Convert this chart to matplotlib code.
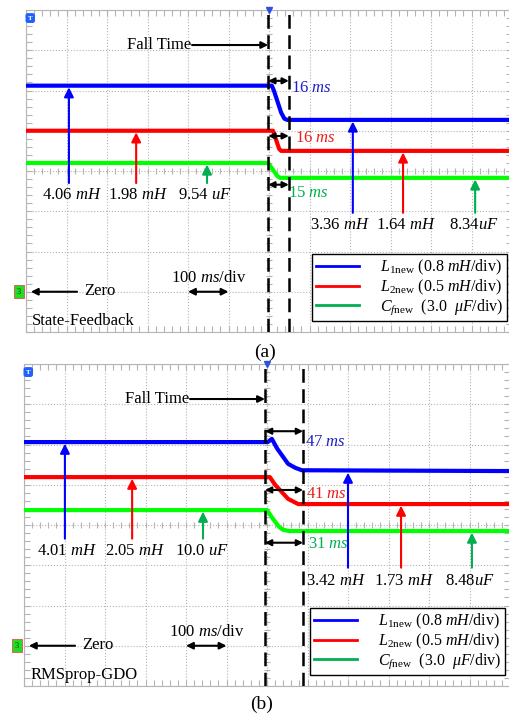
import numpy as np
import matplotlib
matplotlib.use('Agg')
import matplotlib.pyplot as plt
from matplotlib.lines import Line2D
from matplotlib.ticker import MultipleLocator

plt.rcParams['font.family'] = ['Liberation Serif', 'DejaVu Serif']
plt.rcParams['mathtext.fontset'] = 'custom'
plt.rcParams['mathtext.rm'] = 'Liberation Serif'
plt.rcParams['mathtext.it'] = 'Liberation Serif:italic'
plt.rcParams['mathtext.bf'] = 'Liberation Serif:bold'

BLUE, RED, GREEN = '#0000ff', '#ff0000', '#00ff00'
TBLUE, TRED, TGREEN = '#2020c8', '#ee1c1c', '#00b050'
GRID = '#b4b4b4'
FS = 12

# time in ms (100 ms/div, trigger at 0), level in div above the zero marker
# ---------------- panel (a) State-Feedback ----------------
a_blue_t = [-600, 7, 12, 30, 38, 45, 600]
a_blue = [5.12, 5.12, 5.0, 4.45, 4.3, 4.27, 4.27]
a_red_t = [-600, 10, 15, 25, 30, 600]
a_red = [4.0, 4.0, 3.85, 3.55, 3.5, 3.5]
a_green_t = [-600, -2, 5, 20, 27, 600]
a_green = [3.2, 3.2, 3.1, 2.88, 2.83, 2.83]
a_cursors = [-2, 49]
a_fall_y = [5.24, 3.87, 2.66]
a_fall_txt = ['16 $ms$', '16 $ms$', '15 $ms$']
a_fall_lx = [54, 64, 47]
a_fall_ly = [5.06, 3.82, 2.46]
a_before_x = [-494, -328, -153]
a_before_lbl = ['4.06 $mH$', '1.98 $mH$', '9.54 $uF$']
a_before_lx = [-486, -323, -158]
a_after_x = [207, 331, 509]
a_after_lbl = ['3.36 $mH$', '1.64 $mH$', '8.34$uF$']
a_after_lx = [175, 338, 506]

# ---------------- panel (b) RMSprop-GDO ----------------
b_blue_t = [-600, 2, 12, 25, 52, 70, 86, 600]
b_blue = [5.06, 5.06, 5.14, 4.9, 4.52, 4.42, 4.36, 4.34]
b_red_t = [-600, 7, 20, 52, 77, 600]
b_red = [4.19, 4.19, 4.0, 3.65, 3.52, 3.52]
b_green_t = [-600, 0, 15, 30, 40, 55, 600]
b_green = [3.37, 3.37, 3.15, 2.95, 2.88, 2.85, 2.85]
b_cursors = [-5, 89]
b_fall_y = [5.33, 3.87, 2.56]
b_fall_txt = ['47 $ms$', '41 $ms$', '31 $ms$']
b_fall_lx = [94, 96, 101]
b_fall_ly = [5.06, 3.77, 2.53]
b_before_x = [-499, -333, -158]
b_before_lbl = ['4.01 $mH$', '2.05 $mH$', '10.0 $uF$']
b_before_lx = [-494, -326, -160]
b_after_x = [200, 331, 506]
b_after_lbl = ['3.42 $mH$', '1.73 $mH$', '8.48$uF$']
b_after_lx = [170, 338, 501]

legend_lbl = [r'$L_{\mathrm{1new}}$ (0.8 $mH$/div)',
              r'$L_{\mathrm{2new}}$ (0.5 $mH$/div)',
              r'$C_{f\mathrm{new}}$  (3.0  $\mu F$/div)']


def graticule(ax):
    ax.set_xlim(-600, 600)
    ax.set_ylim(-1, 7)
    ax.xaxis.set_major_locator(MultipleLocator(100))
    ax.yaxis.set_major_locator(MultipleLocator(1))
    ax.xaxis.set_minor_locator(MultipleLocator(20))
    ax.yaxis.set_minor_locator(MultipleLocator(0.2))
    ax.tick_params(which='both', direction='in', length=4, width=0.8,
                   colors=GRID, top=True, right=True,
                   labelbottom=False, labelleft=False)
    ax.grid(True, which='major', ls=':', color=GRID, lw=0.8)
    for s in ax.spines.values():
        s.set_color(GRID)
    # tick marks along the centre cross
    xs = np.arange(-600, 601, 20)
    ax.plot(xs, np.full(len(xs), 3.0), ls='none', marker='|', ms=5,
            mew=0.8, color=GRID, zorder=1)
    ys = np.arange(-1, 7.01, 0.2)
    ax.plot(np.zeros(len(ys)), ys, ls='none', marker='_', ms=5,
            mew=0.8, color=GRID, zorder=1)


def arrow(ax, x0, y0, x1, y1, color='k', style='-|>', lw=1.5, ms=11):
    ax.annotate('', xy=(x1, y1), xytext=(x0, y0),
                arrowprops=dict(arrowstyle=style, color=color, lw=lw,
                                mutation_scale=ms, shrinkA=0, shrinkB=0),
                zorder=6)


def draw_panel(ax, traces, cursors, fall_y, fall_txt, fall_lx, fall_ly,
               before_x, before_lbl, before_lx, after_x, after_lbl,
               after_lx, name, before_base, before_ly, after_base, after_ly):
    graticule(ax)
    for (t, v), c in zip(traces, [BLUE, RED, GREEN]):
        ax.plot(t, v, color=c, lw=3.0, solid_joinstyle='round', zorder=3)
    for x in cursors:
        ax.axvline(x, color='k', lw=1.8, dashes=(5.5, 2.6), zorder=5)
    ax.plot(0, 7, marker='v', color='#3050e0', ms=4, clip_on=False, zorder=7)

    tcols = [TBLUE, TRED, TGREEN]
    for y, txt, lx, ly, c in zip(fall_y, fall_txt, fall_lx, fall_ly, tcols):
        arrow(ax, cursors[0], y, cursors[1], y, style='<|-|>', ms=9)
        ax.text(lx, ly, txt, color=c, fontsize=FS, va='center', ha='left')

    # Fall Time pointer
    ax.text(-192, 6.13, 'Fall Time', fontsize=FS, ha='right', va='center')
    arrow(ax, -190, 6.13, cursors[0], 6.13, style='-|>', ms=10)

    levels0 = [tr[1][0] for tr in traces]
    levels1 = [tr[1][-1] for tr in traces]
    acols = [BLUE, RED, TGREEN]
    for x, lvl, lbl, lx, c in zip(before_x, levels0, before_lbl, before_lx, acols):
        arrow(ax, x, before_base, x, lvl - 0.04, color=c, ms=14)
        ax.text(lx, before_ly, lbl, fontsize=FS, ha='center', va='center')
    for x, lvl, lbl, lx, c in zip(after_x, levels1, after_lbl, after_lx, acols):
        arrow(ax, x, after_base, x, lvl - 0.04, color=c, ms=14)
        ax.text(lx, after_ly, lbl, fontsize=FS, ha='center', va='center')

    # zero marker and time scale
    arrow(ax, -474, 0, -588, 0, style='-|>', ms=10)
    ax.text(-456, 0.02, 'Zero', fontsize=FS, ha='left', va='center')
    arrow(ax, -200, 0, -100, 0, style='<|-|>', ms=10)
    ax.text(-150, 0.34, '100 $ms$/div', fontsize=FS, ha='center', va='center')
    ax.text(-585, -0.72, name, fontsize=FS, ha='left', va='center')

    # channel flags
    ax.text(-0.01, 0, '3', transform=ax.get_yaxis_transform(), fontsize=6,
            color='#104010', ha='right', va='center', clip_on=False,
            bbox=dict(boxstyle='square,pad=0.3', fc='#22dd22', ec='#e05050', lw=0.6))
    ax.text(0.004, 6.8, 'T', transform=ax.get_yaxis_transform(), fontsize=5,
            color='white', fontweight='bold', ha='left', va='center',
            bbox=dict(boxstyle='round,pad=0.25', fc='#2060ff', ec='#2060ff'))

    handles = [Line2D([], [], color=c, lw=2) for c in [BLUE, RED, TGREEN]]
    leg = ax.legend(handles, legend_lbl, loc='lower right',
                    bbox_to_anchor=(0.99, 0.033), bbox_transform=ax.transAxes,
                    frameon=True, fancybox=False, edgecolor='k', framealpha=1,
                    fontsize=11.5, handlelength=2.7, labelspacing=0.05,
                    borderpad=0.25, handletextpad=1.3, borderaxespad=0)
    leg.get_frame().set_linewidth(1.0)
    leg.set_zorder(8)


fig = plt.figure(figsize=(5.09, 7.15), dpi=100)
ax_a = fig.add_axes([26 / 509, 1 - 332 / 715, 486 / 509, 322 / 715])
ax_b = fig.add_axes([24 / 509, 1 - 686 / 715, 486 / 509, 322 / 715])

draw_panel(ax_a, [(a_blue_t, a_blue), (a_red_t, a_red), (a_green_t, a_green)],
           a_cursors, a_fall_y, a_fall_txt, a_fall_lx, a_fall_ly,
           a_before_x, a_before_lbl, a_before_lx, a_after_x, a_after_lbl,
           a_after_lx, 'State-Feedback', 2.70, 2.41, 1.96, 1.66)
draw_panel(ax_b, [(b_blue_t, b_blue), (b_red_t, b_red), (b_green_t, b_green)],
           b_cursors, b_fall_y, b_fall_txt, b_fall_lx, b_fall_ly,
           b_before_x, b_before_lbl, b_before_lx, b_after_x, b_after_lbl,
           b_after_lx, 'RMSprop-GDO', 2.66, 2.36, 1.94, 1.61)

fig.text(265 / 509, 1 - 352 / 715, '(a)', ha='center', va='center', fontsize=14)
fig.text(262 / 509, 1 - 704 / 715, '(b)', ha='center', va='center', fontsize=14)

fig.savefig('out.png', dpi=100)
